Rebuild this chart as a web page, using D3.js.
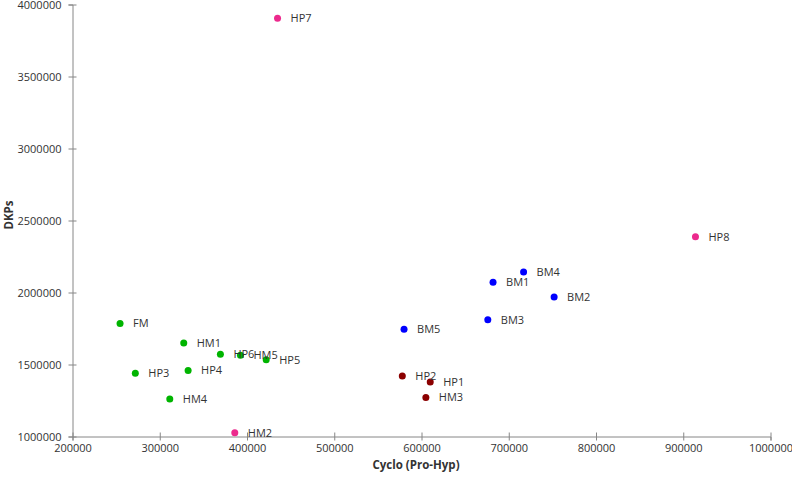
<!DOCTYPE html>
<html>
<head>
<meta charset="utf-8">
<script src="https://cdn.jsdelivr.net/npm/d3@7"></script>
<style>
  html, body { margin: 0; padding: 0; background: #ffffff; }
  svg { display: block; font-family: "Open Sans", sans-serif; }
</style>
</head>
<body>
<div id="chart"></div>
<script>
// ---- data ----
const sampleNames = ["HP7", "HP8", "BM4", "BM1", "BM2", "BM3", "BM5", "HP2", "HP1", "HM3",
                     "FM", "HM1", "HP6", "HM5", "HP5", "HP3", "HP4", "HM4", "HM2"];
const cycloValues = [435000, 914000, 717000, 682000, 752000, 676000, 580000, 578000, 610000, 605000,
                     254500, 327500, 369500, 392500, 422000, 272000, 332500, 311500, 386000];
const dkpValues   = [3905000, 2387000, 2143000, 2072000, 1968000, 1810000, 1745000, 1421000, 1378000, 1271000,
                     1785000, 1649000, 1572000, 1565000, 1533000, 1440000, 1458000, 1260000, 1026000];
const groupOf     = ["pink", "pink", "blue", "blue", "blue", "blue", "blue", "red", "red", "red",
                     "green", "green", "green", "green", "green", "green", "green", "green", "pink"];
const groupNames  = ["green", "blue", "red", "pink"];
const groupColors = ["#00b400", "#0000ff", "#8b0000", "#ec2a8d"];
const xTicks = [200000, 300000, 400000, 500000, 600000, 700000, 800000, 900000, 1000000];
const yTicks = [1000000, 1500000, 2000000, 2500000, 3000000, 3500000, 4000000];
const xTitle = "Cyclo (Pro-Hyp)";
const yTitle = "DKPs";

// ---- layout ----
const W = 792, H = 481;
const mLeft = 72.5, mRight = 770.5, mTop = 4.5, mBottom = 436.5;

const svg = d3.select("#chart").append("svg").attr("width", W).attr("height", H);

const x = d3.scaleLinear().domain([200000, 1000000]).range([mLeft, mRight]);
const y = d3.scaleLinear().domain([1000000, 4000000]).range([mBottom, mTop]);
const color = d3.scaleOrdinal().domain(groupNames).range(groupColors);

const axisColor = "#868686";

// x axis
const gx = svg.append("g").attr("transform", `translate(0,${mBottom})`)
  .call(d3.axisBottom(x).tickValues(xTicks).tickFormat(d3.format("d")).tickSizeOuter(0).tickSize(4));
gx.select(".domain").attr("stroke", axisColor);
gx.selectAll(".tick line").attr("stroke", axisColor).attr("y1", -4).attr("y2", 4);
gx.selectAll(".tick text").attr("y", 8).attr("dy", "0.71em")
  .attr("font-size", 11).attr("font-family", "Open Sans, sans-serif").attr("fill", "#333");

// y axis
const gy = svg.append("g").attr("transform", `translate(${mLeft},0)`)
  .call(d3.axisLeft(y).tickValues(yTicks).tickFormat(d3.format("d")).tickSizeOuter(0).tickSize(4));
gy.select(".domain").attr("stroke", axisColor);
gy.selectAll(".tick line").attr("stroke", axisColor).attr("x1", -4).attr("x2", 4);
gy.selectAll(".tick text").attr("x", -11).attr("dy", "0.32em")
  .attr("font-size", 11).attr("font-family", "Open Sans, sans-serif").attr("fill", "#333");

// titles
svg.append("text")
  .attr("x", 416).attr("y", 469)
  .attr("text-anchor", "middle")
  .attr("font-size", 11.5).attr("font-weight", "bold").attr("fill", "#333")
  .text(xTitle);

svg.append("text")
  .attr("transform", `translate(9,215) rotate(-90)`)
  .attr("text-anchor", "middle").attr("dy", "0.35em")
  .attr("font-size", 11.5).attr("font-weight", "bold").attr("fill", "#333")
  .text(yTitle);

// points
const pts = sampleNames.map((n, i) => ({ name: n, cx: cycloValues[i], dk: dkpValues[i], g: groupOf[i] }));

svg.append("g").selectAll("circle").data(pts).join("circle")
  .attr("cx", d => x(d.cx)).attr("cy", d => y(d.dk))
  .attr("r", 3.5)
  .attr("fill", d => color(d.g));

svg.append("g").selectAll("text").data(pts).join("text")
  .attr("x", d => x(d.cx) + 13).attr("y", d => y(d.dk))
  .attr("dy", "0.35em")
  .attr("font-size", 11).attr("fill", "#333")
  .text(d => d.name);
</script>
</body>
</html>
